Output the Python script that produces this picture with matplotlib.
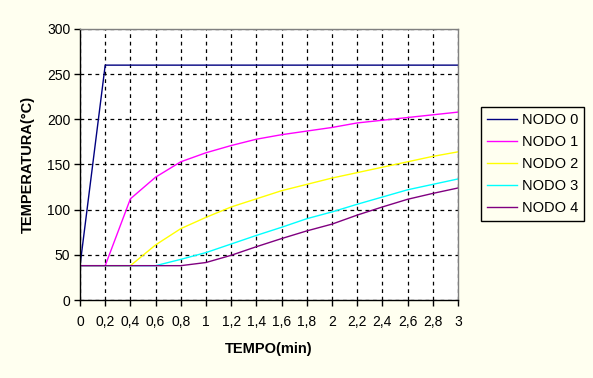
import matplotlib
matplotlib.use('Agg')
from matplotlib import pyplot as plt

# tempo (min) e temperature dei nodi
tempo = [0, 0.2, 0.4, 0.6, 0.8, 1.0, 1.2, 1.4, 1.6, 1.8, 2.0, 2.2, 2.4, 2.6, 2.8, 3.0]
nodo0 = [38, 260, 260, 260, 260, 260, 260, 260, 260, 260, 260, 260, 260, 260, 260, 260]
nodo1 = [38, 38, 112, 136, 153, 163, 171, 178, 183, 187, 191, 196, 199, 202, 205, 208]
nodo2 = [38, 38, 38, 61, 79, 91.5, 103, 112, 121, 128, 135, 141, 147, 153, 159, 164]
nodo3 = [38, 38, 38, 38, 45, 52.5, 62, 71.5, 80.5, 90, 97.5, 106, 114, 122, 128, 134]
nodo4 = [38, 38, 38, 38, 38, 41.5, 49.5, 59, 68, 76.5, 84, 94, 103, 111.5, 118, 124]

serie = [nodo0, nodo1, nodo2, nodo3, nodo4]
nomi = ["NODO 0", "NODO 1", "NODO 2", "NODO 3", "NODO 4"]
colori = ["#000080", "#FF00FF", "#FFFF00", "#00FFFF", "#800080"]
xtick_labels = ["0", "0,2", "0,4", "0,6", "0,8", "1", "1,2", "1,4", "1,6", "1,8",
                "2", "2,2", "2,4", "2,6", "2,8", "3"]

plt.rcParams['font.family'] = ['Liberation Sans', 'DejaVu Sans']
sfondo = "#FFFFF0"

fig = plt.figure(figsize=(5.93, 3.78), dpi=100, facecolor=sfondo)
ax = fig.add_axes([80 / 593, 1 - 300 / 378, 378 / 593, 271 / 378])
ax.set_facecolor("white")

for y, nome, col in zip(serie, nomi, colori):
    ax.plot(tempo, y, color=col, lw=1.0, label=nome)

ax.set_xlim(0, 3)
ax.set_ylim(0, 300)
ax.set_xticks(tempo)
ax.set_xticklabels(xtick_labels)
ax.set_yticks(range(0, 301, 50))
ax.tick_params(labelsize=10, length=4, width=1, color="black", direction="out", pad=7)
ax.tick_params(axis='y', pad=3)

ax.grid(True, color="black", linestyle=(0, (3, 3)), lw=0.9)
ax.set_axisbelow(True)
for s in ["top", "right"]:
    ax.spines[s].set_color("#808080")
    ax.spines[s].set_linewidth(1)
for s in ["left", "bottom"]:
    ax.spines[s].set_color("black")
    ax.spines[s].set_linewidth(1)

ax.set_xlabel("TEMPO(min)", fontsize=10.5, fontweight="bold", labelpad=9)
ax.set_ylabel("TEMPERATURA(°C)", fontsize=10.5, fontweight="bold", labelpad=9)

leg = fig.legend(loc="upper left", bbox_to_anchor=(481 / 593, 1 - 107 / 378),
                 bbox_transform=fig.transFigure, borderaxespad=0, fontsize=10.5,
                 fancybox=False, edgecolor="black", facecolor=sfondo, framealpha=1,
                 handlelength=2.1, handletextpad=0.3, labelspacing=0.55, borderpad=0.4)
leg.get_frame().set_linewidth(1)

fig.savefig("out.png", dpi=100, facecolor=sfondo)
